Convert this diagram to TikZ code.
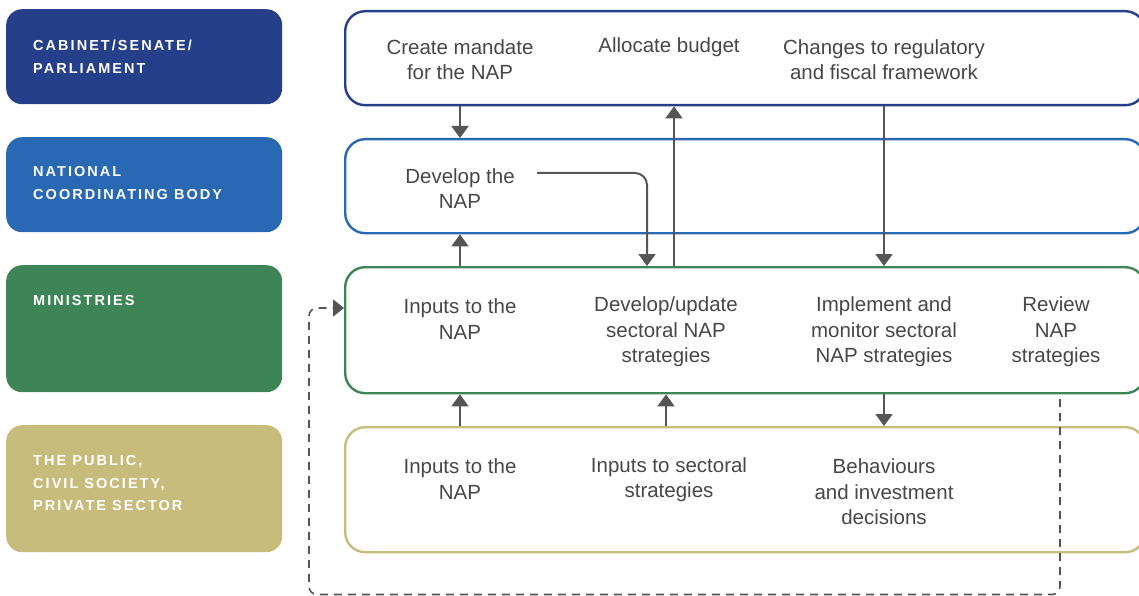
\documentclass[tikz,border=0pt]{standalone}
\usepackage{fontspec}
\setmainfont{Liberation Sans}
\newfontfamily\lblfont[LetterSpace=14]{Liberation Sans}
\usetikzlibrary{arrows.meta}
\definecolor{cA}{HTML}{253F8A}
\definecolor{cB}{HTML}{2968B2}
\definecolor{cC}{HTML}{3D8456}
\definecolor{cD}{HTML}{C7BC7C}
\definecolor{txtc}{HTML}{474747}
\definecolor{arrc}{HTML}{555555}
\begin{document}
\begin{tikzpicture}[x=1pt,y=-1pt,
  lblbox/.style={fill=#1, draw=none, rounded corners=16pt, minimum width=276pt, minimum height=95pt, anchor=north west, inner sep=0pt},
  lbltext/.style={anchor=north west, align=left, text=white, inner sep=0pt, font=\lblfont\bfseries\fontsize{14.5}{22.5}\selectfont},
  rowbox/.style={draw=#1, line width=2.4pt, rounded corners=20pt, minimum width=800pt, minimum height=94pt, anchor=north west, inner sep=0pt},
  body/.style={align=center, text=txtc, inner sep=0pt, font=\fontsize{20.5}{25.5}\selectfont},
  arr/.style={draw=arrc, line width=2pt, -{Triangle[width=17pt,length=12pt]}},
  dsh/.style={draw=arrc, line width=1.6pt, dash pattern=on 8pt off 6pt, rounded corners=8pt, -{Triangle[width=17pt,length=11pt]}}]
\useasboundingbox (0,0) rectangle (1139,596);
\clip (0,0) rectangle (1139,596);

% left labels
\node[lblbox=cA] (l1) at (6,9) {};
\node[lblbox=cB] (l2) at (6,137) {};
\node[lblbox=cC, minimum height=127pt] (l3) at (6,265) {};
\node[lblbox=cD, minimum height=127pt] (l4) at (6,425) {};
\node[lbltext] (lt1) at (33,40) {CABINET/SENATE/\\PARLIAMENT};
\node[lbltext] (lt2) at (33,166.5) {NATIONAL\\COORDINATING BODY};
\node[lbltext] (lt3) at (33,295.5) {MINISTRIES};
\node[lbltext] (lt4) at (33,455.5) {THE PUBLIC,\\CIVIL SOCIETY,\\PRIVATE SECTOR};

% row boxes
\node[rowbox=cA] (r1) at (344,10) {};
\node[rowbox=cB] (r2) at (344,138) {};
\node[rowbox=cC, minimum height=126pt] (r3) at (344,266) {};
\node[rowbox=cD, minimum height=125pt] (r4) at (344,426) {};

% texts
\node[body] (t11) at (460,59.5) {Create mandate\\for the NAP};
\node[body] (t12) at (669,47) {Allocate budget};
\node[body] (t13) at (884,59.5) {Changes to regulatory\\and fiscal framework};
\node[body] (t21) at (460,188.5) {Develop the\\NAP};
\node[body] (t31) at (460,319) {Inputs to the\\NAP};
\node[body] (t32) at (666,332) {Develop/update\\sectoral NAP\\strategies};
\node[body] (t33) at (884,332) {Implement and\\monitor sectoral\\NAP strategies};
\node[body] (t34) at (1056,332) {Review\\NAP\\strategies};
\node[body] (t41) at (460,479) {Inputs to the\\NAP};
\node[body] (t42) at (669,479.5) {Inputs to sectoral\\strategies};
\node[body] (t43) at (884,492) {Behaviours\\and investment\\decisions};

% helper coordinates
\coordinate (xb) at (674,0);
\coordinate (xd) at (647,0);
\coordinate (ds) at (537,173);
\coordinate (dv) at (1060,399);
\coordinate (dy) at (0,308);

% arrows
\draw[arr] (r1.south -| t11) -- (r2.north -| t11);
\draw[arr] (r3.north -| t31) -- (r2.south -| t31);
\draw[arr] (r3.north -| xb) -- (r1.south -| xb);
\draw[arr] (r1.south -| t13) -- (r3.north -| t13);
\draw[arr, rounded corners=12pt] (ds) -| (r3.north -| xd);
\draw[arr] (r4.north -| t31) -- (r3.south -| t31);
\draw[arr] (r4.north -| t32) -- (r3.south -| t32);
\draw[arr] (r3.south -| t33) -- (r4.north -| t33);
\draw[dsh] (dv) -- (1060,594.5) -- (309,594.5) -- (309,308) -- (r3.west |- dy);
\end{tikzpicture}
\end{document}
